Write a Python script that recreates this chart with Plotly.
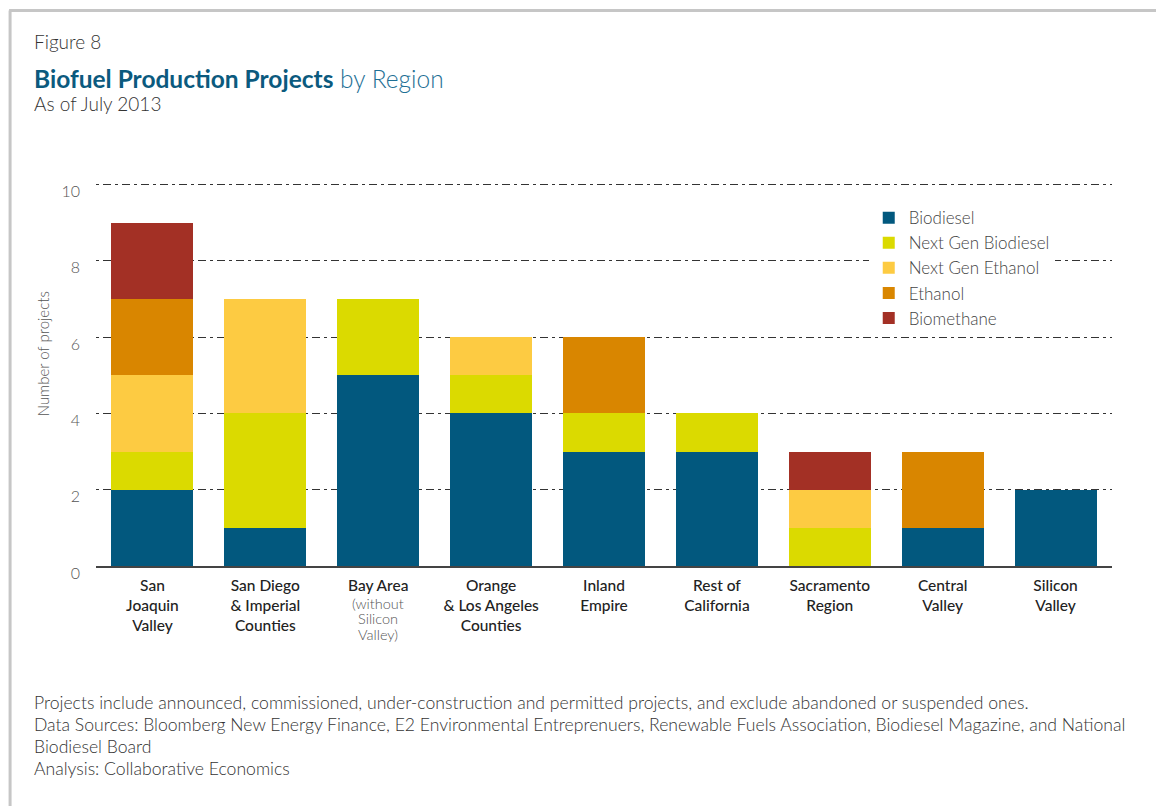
import plotly.graph_objects as go

# ---------------- data ----------------
regions = ["San Joaquin Valley", "San Diego & Imperial Counties", "Bay Area",
           "Orange & Los Angeles Counties", "Inland Empire", "Rest of California",
           "Sacramento Region", "Central Valley", "Silicon Valley"]
region_labels = ["San<br>Joaquin<br>Valley", "San Diego<br>& Imperial<br>Counties", "Bay Area",
                 "Orange<br>& Los Angeles<br>Counties", "Inland<br>Empire", "Rest of<br>California",
                 "Sacramento<br>Region", "Central<br>Valley", "Silicon<br>Valley"]
bay_area_note = ["(without", "Silicon", "Valley)"]
biodiesel = [2, 1, 5, 4, 3, 3, 0, 1, 2]
next_gen_biodiesel = [1, 3, 2, 1, 1, 1, 1, 0, 0]
next_gen_ethanol = [2, 3, 0, 1, 0, 0, 1, 0, 0]
ethanol = [2, 0, 0, 0, 2, 0, 0, 2, 0]
biomethane = [2, 0, 0, 0, 0, 0, 1, 0, 0]
series_names = ["Biodiesel", "Next Gen Biodiesel", "Next Gen Ethanol", "Ethanol", "Biomethane"]
series_values = [biodiesel, next_gen_biodiesel, next_gen_ethanol, ethanol, biomethane]
series_colors = ["#02587e", "#dbda00", "#fdcb42", "#d98600", "#a33025"]
y_ticks = [0, 2, 4, 6, 8, 10]
y_max = 10.12

FONT = "Lato"
OFF = 8                     # page body margin
W, H = 1164 - OFF, 806 - OFF
# plot area in page (reference) pixels
PL, PR, PB = 95.5, 1112.5, 566
UNIT = (566 - 185) / 10.0
PT = PB - y_max * UNIT


def px(x):
    return (x - PL) / (PR - PL)


def py(y):
    return (PB - y) / (PB - PT)


fig = go.Figure()
for name, vals, col in zip(series_names, series_values, series_colors):
    fig.add_trace(go.Bar(x=regions, y=vals, name=name, marker=dict(color=col, line=dict(width=0))))

fig.update_layout(
    width=W, height=H, autosize=False,
    barmode="stack", bargap=0.274,
    plot_bgcolor="white", paper_bgcolor="white",
    margin=dict(l=PL - OFF, r=1164 - PR, t=PT - OFF, b=806 - PB, pad=0),
    font=dict(family=FONT, color="#333"),
    showlegend=True,
    legend=dict(x=px(869), y=py(200.5), xanchor="left", yanchor="top",
                traceorder="normal", bgcolor="white",
                font=dict(family=FONT, size=17, color="#444", weight=300),
                itemclick=False, tracegroupgap=0),
)
fig.update_yaxes(range=[0, y_max], tickvals=y_ticks, showgrid=True, gridcolor="#333",
                 griddash="3px,4px,8px,4px", gridwidth=1, zeroline=False, showline=False,
                 ticks="", tickfont=dict(family=FONT, size=16, color="#555", weight=300),
                 ticklabelstandoff=15, ticklabelshift=7, fixedrange=True)
fig.update_xaxes(tickvals=regions, ticktext=region_labels, showline=True, linecolor="#444",
                 linewidth=2, ticks="", showgrid=False,
                 tickfont=dict(family=FONT, size=15.5, color="#222", weight=500),
                 ticklabelstandoff=4, fixedrange=True)

ann = []
ann.append(dict(text="Figure 8", x=px(31), y=py(42), xref="paper", yref="paper",
                xanchor="left", yanchor="middle", showarrow=False,
                font=dict(family=FONT, size=19, color="#333", weight=300)))
ann.append(dict(text="<b>Biofuel Production Projects</b><span style='color:#1e6f95;font-weight:300'> by Region</span>",
                x=px(31), y=py(79), xref="paper", yref="paper",
                xanchor="left", yanchor="middle", showarrow=False,
                font=dict(family=FONT, size=24.5, color="#0b5a7e")))
ann.append(dict(text="As of July 2013", x=px(31), y=py(104), xref="paper", yref="paper",
                xanchor="left", yanchor="middle", showarrow=False,
                font=dict(family=FONT, size=19, color="#333", weight=300)))
ann.append(dict(text="Number of projects", x=px(42), y=py(354), xref="paper", yref="paper",
                xanchor="center", yanchor="middle", showarrow=False, textangle=-90,
                font=dict(family=FONT, size=15, color="#555", weight=300)))
for t, yy in zip(bay_area_note, [603, 618, 634]):
    ann.append(dict(text=t, x="Bay Area", y=py(yy), xref="x", yref="paper",
                    xanchor="center", yanchor="middle", showarrow=False,
                    font=dict(family=FONT, size=14.5, color="#555", weight=300)))
foot = ["Projects include announced, commissioned, under-construction and permitted projects, and exclude abandoned or suspended ones.",
        "Data Sources: Bloomberg New Energy Finance, E2 Environmental Entreprenuers, Renewable Fuels Association, Biodiesel Magazine, and National",
        "Biodiesel Board",
        "Analysis: Collaborative Economics"]
foot_y = [702, 724, 746, 768]
for t, yy in zip(foot, foot_y):
    ann.append(dict(text=t, x=px(31), y=py(yy), xref="paper", yref="paper",
                    xanchor="left", yanchor="middle", showarrow=False,
                    font=dict(family=FONT, size=17.6, color="#333", weight=300)))
fig.update_layout(annotations=ann)

fig.add_shape(type="line", xref="paper", yref="paper", x0=px(8.5), x1=px(1170), y0=py(11), y1=py(11),
              line=dict(color="#c6c6c6", width=3), layer="above")
fig.add_shape(type="line", xref="paper", yref="paper", x0=px(9.5), x1=px(9.5), y0=py(11), y1=py(812),
              line=dict(color="#c6c6c6", width=3), layer="above")

fig.write_html("out.html")
